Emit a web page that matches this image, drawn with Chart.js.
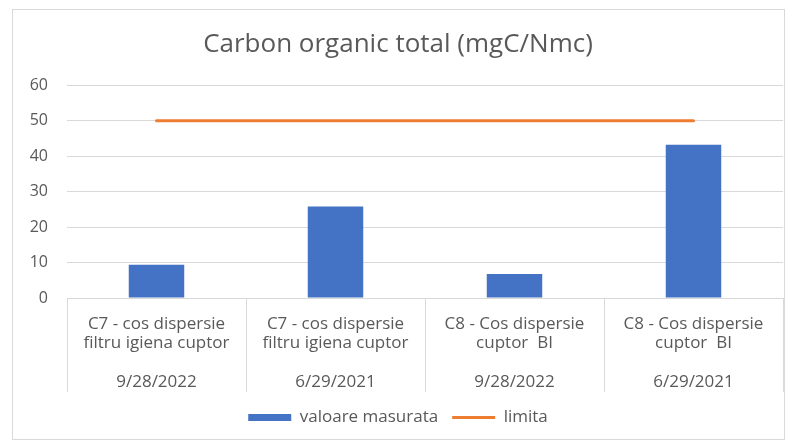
<!DOCTYPE html>
<html>
<head>
<meta charset="utf-8">
<script src="https://cdn.jsdelivr.net/npm/chart.js@4/dist/chart.umd.min.js"></script>
<style>
  html, body { margin: 0; padding: 0; background: #fff; }
  #frame {
    position: absolute; left: 12px; top: 9px;
    width: 773px; height: 431px;
    border: 1px solid #d9d9d9; box-sizing: border-box;
  }
  #grafico { display: block; }
</style>
</head>
<body>
<div id="frame"><canvas id="grafico" width="771" height="429"></canvas></div>
<script>
// date
const categorii = [
    ['C7 - cos dispersie', 'filtru igiena cuptor'],
    ['C7 - cos dispersie', 'filtru igiena cuptor'],
    ['C8 - Cos dispersie', 'cuptor  BI'],
    ['C8 - Cos dispersie', 'cuptor  BI']
];
const date = ['9/28/2022', '6/29/2021', '9/28/2022', '6/29/2021'];
const valoareMasurata = [9.4, 25.8, 6.8, 43.2];
const limita = [50, 50, 50, 50];
const yTicks = [0, 10, 20, 30, 40, 50, 60];

document.addEventListener('DOMContentLoaded', function () {
    const gri = '#595959';
    const linii = '#d9d9d9';
    const font = '"Open Sans", Lato, sans-serif';

    // eticheta pe doua randuri + data dedesubt
    const labels = categorii.map((c, i) => [...c, '', date[i]]);

    const ctx = document.getElementById('grafico').getContext('2d');
    new Chart(ctx, {
        data: {
            labels: labels,
            datasets: [{
                type: 'bar',
                label: 'valoare masurata',
                data: valoareMasurata,
                backgroundColor: '#4472C4',
                borderWidth: 0,
                categoryPercentage: 1,
                barPercentage: 0.31,
                pointStyle: 'rect'
            }, {
                type: 'line',
                label: 'limita',
                data: limita,
                borderColor: '#ED7D31',
                backgroundColor: '#ED7D31',
                borderWidth: 3,
                pointRadius: 0,
                pointStyle: 'line',
                borderCapStyle: 'round'
            }]
        },
        options: {
            responsive: false,
            animation: false,
            layout: { padding: { left: 0, right: 1, top: 0, bottom: 3 } },
            plugins: {
                title: {
                    display: true,
                    text: 'Carbon organic total (mgC/Nmc)',
                    color: gri,
                    font: { family: font, size: 26, weight: 'normal', lineHeight: 1.2 },
                    padding: { top: 19, bottom: 25 }
                },
                legend: {
                    position: 'bottom',
                    labels: {
                        color: gri,
                        font: { family: font, size: 17 },
                        usePointStyle: true,
                        pointStyleWidth: 43,
                        boxHeight: 7,
                        padding: 14
                    }
                },
                tooltip: { enabled: false }
            },
            scales: {
                x: {
                    offset: true,
                    afterFit: function (scale) { scale.height = 97; },
                    grid: {
                        offset: true,
                        drawOnChartArea: false,
                        drawTicks: true,
                        tickLength: 94,
                        color: linii
                    },
                    border: { display: false },
                    ticks: {
                        color: gri,
                        font: { family: font, size: 17, lineHeight: 1.15 },
                        padding: -78,
                        maxRotation: 0,
                        autoSkip: false
                    }
                },
                y: {
                    min: 0,
                    max: 60,
                    afterFit: function (scale) { scale.width = 54; },
                    afterBuildTicks: function (scale) {
                        scale.ticks = yTicks.map(v => ({ value: v }));
                    },
                    grid: { color: linii, drawTicks: false },
                    border: { display: false },
                    ticks: {
                        color: gri,
                        font: { family: font, size: 16 },
                        padding: 19
                    }
                }
            }
        }
    });
});
</script>
</body>
</html>
